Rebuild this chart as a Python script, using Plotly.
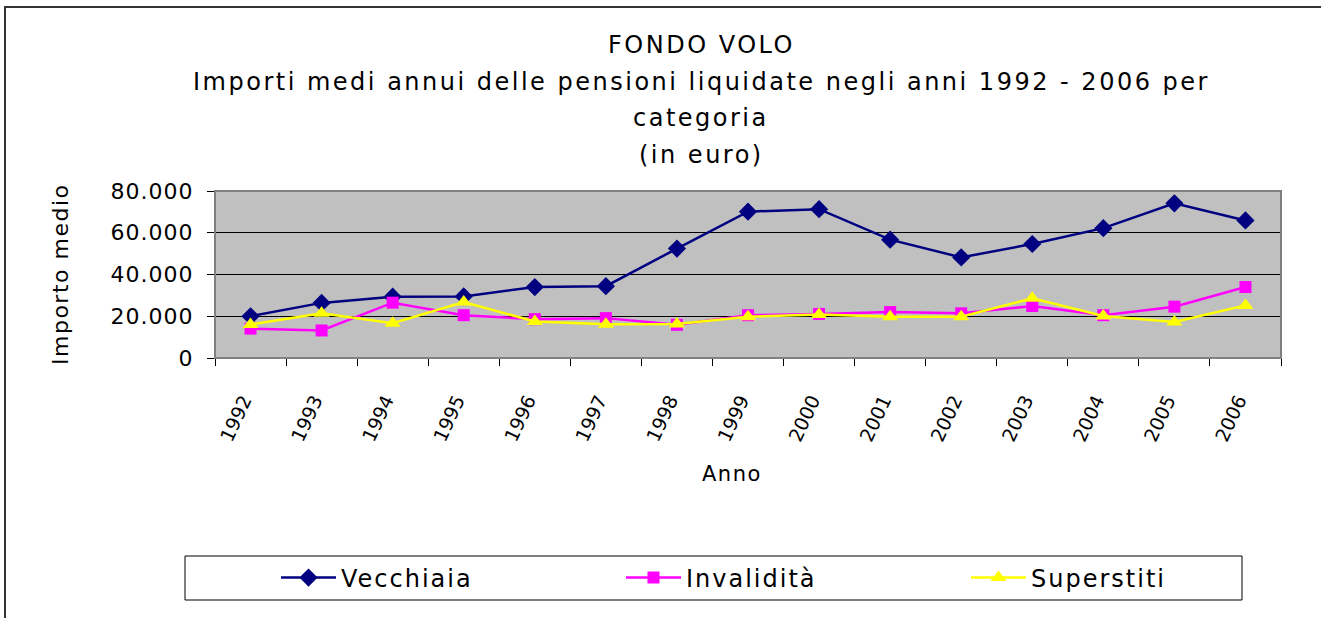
import plotly.graph_objects as go

anni = ["1992", "1993", "1994", "1995", "1996", "1997", "1998", "1999",
        "2000", "2001", "2002", "2003", "2004", "2005", "2006"]
vecchiaia = [20000, 26400, 29400, 29500, 34000, 34400, 52400, 70100,
             71300, 56700, 48200, 54600, 62200, 74100, 65900]
invalidita = [14100, 13200, 26500, 20500, 18600, 19100, 15900, 20500,
              21100, 22000, 21400, 24900, 20500, 24600, 34000]
superstiti = [16000, 21400, 16700, 26800, 17500, 16200, 16300, 19800,
              20800, 19800, 19800, 28600, 20100, 17300, 25200]

y_tick_vals = [0, 20000, 40000, 60000, 80000]
y_tick_text = ["0", "20.000", "40.000", "60.000", "80.000"]

title_lines = ["FONDO VOLO",
               "Importi medi annui delle pensioni liquidate negli anni 1992 - 2006 per",
               "categoria",
               "(in euro)"]

W, H = 1321, 618
L, R, T, B = 215, 1281, 191, 358


def px(x):
    return (x - L) / (R - L)


def py(y):
    return (B - y) / (B - T)


def ls(text, sp):
    return f"<span style='letter-spacing:{sp}px'>{text}</span>"


FONT = "DejaVu Sans"

fig = go.Figure()
fig.add_trace(go.Scatter(x=anni, y=vecchiaia, name=ls("Vecchiaia", 2), mode="lines+markers",
                         line=dict(color="#000080", width=2.5),
                         marker=dict(symbol="diamond", size=14, color="#000080")))
fig.add_trace(go.Scatter(x=anni, y=invalidita, name=ls("Invalidità", 2), mode="lines+markers",
                         line=dict(color="#FF00FF", width=2.5),
                         marker=dict(symbol="square", size=12, color="#FF00FF")))
fig.add_trace(go.Scatter(x=anni, y=superstiti, name=ls("Superstiti", 2), mode="lines+markers",
                         line=dict(color="#FFFF00", width=2.5),
                         marker=dict(symbol="triangle-up", size=14, color="#FFFF00")))

annotations = []
for t, yy in zip(title_lines, [45, 82, 118, 155]):
    annotations.append(dict(text=ls(t, 2.5), x=px(701), y=py(yy), xref="paper", yref="paper",
                            showarrow=False, xanchor="center", yanchor="middle",
                            font=dict(family=FONT, size=24, color="black")))
annotations.append(dict(text=ls("Importo medio", 1.5), x=px(60), y=py(275), xref="paper",
                        yref="paper", showarrow=False, textangle=-90, xanchor="center",
                        yanchor="middle", font=dict(family=FONT, size=22, color="black")))
annotations.append(dict(text=ls("Anno", 1.5), x=px(732), y=py(474), xref="paper", yref="paper",
                        showarrow=False, xanchor="center", yanchor="middle",
                        font=dict(family=FONT, size=21, color="black")))

shapes = [
    dict(type="rect", xref="paper", yref="paper", x0=px(5), x1=px(1345), y0=py(680), y1=py(7),
         line=dict(color="#333333", width=2), fillcolor="rgba(0,0,0,0)", layer="below"),
    dict(type="rect", xref="paper", yref="paper", x0=0, x1=1, y0=0, y1=1,
         line=dict(color="#808080", width=2), fillcolor="rgba(0,0,0,0)", layer="above"),
    dict(type="rect", xref="paper", yref="paper", x0=px(185), x1=px(1242), y0=py(600), y1=py(556),
         line=dict(color="black", width=1), fillcolor="white", layer="below"),
]

fig.update_layout(
    width=W, height=H,
    margin=dict(l=L, r=W - R, t=T, b=H - B, autoexpand=False),
    paper_bgcolor="white", plot_bgcolor="#C0C0C0",
    font=dict(family=FONT, color="black"),
    showlegend=True,
    legend=dict(orientation="h", xref="container", yref="container",
                x=276 / W, xanchor="left", y=1 - 578 / H, yanchor="middle",
                entrywidth=275, entrywidthmode="pixels", bgcolor="rgba(0,0,0,0)",
                borderwidth=0, font=dict(family=FONT, size=24, color="black"),
                itemwidth=55),
    annotations=annotations,
    shapes=shapes,
)
fig.update_xaxes(type="category", range=[-0.5, 14.5], tickson="boundaries",
                 ticks="outside", ticklen=7, tickcolor="black", tickwidth=1,
                 showline=True, linecolor="black", linewidth=1,
                 showgrid=False, tickangle=-65, ticklabelstandoff=23,
                 ticklabelshift=-7,
                 tickfont=dict(family=FONT, size=19, color="black"))
fig.update_yaxes(range=[0, 80000], tickvals=y_tick_vals,
                 ticktext=[ls(t, 1) for t in y_tick_text],
                 ticks="outside", ticklen=7, tickcolor="black", tickwidth=1,
                 showline=True, linecolor="black", linewidth=1,
                 showgrid=True, gridcolor="black", gridwidth=1, zeroline=False,
                 ticklabelstandoff=9,
                 tickfont=dict(family=FONT, size=22, color="black"))

fig.write_html("out.html", post_script="document.body.style.margin='0';",
               config={"displayModeBar": False})
